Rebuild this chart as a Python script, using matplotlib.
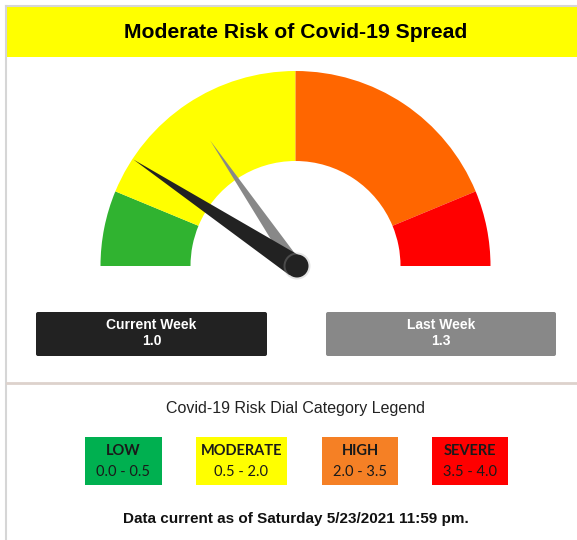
import numpy as np
import matplotlib.pyplot as plt
from matplotlib.patches import Wedge, Polygon, Circle, Rectangle, FancyBboxPatch

# ==========================================
# Data
# ==========================================

title = "Moderate Risk of Covid-19 Spread"

# dial bands (risk value from / to) and colours
band_starts = [0.0, 0.5, 2.0, 3.5]
band_ends = [0.5, 2.0, 3.5, 4.0]
band_colors = ["#30b330", "#ffff00", "#ff6600", "#ff0000"]
dial_max = 4.0

# needle positions as read from the dial, and the shown values
current_needle = 0.74
last_needle = 1.24
current_label = "1.0"
last_label = "1.3"

# legend
legend_names = ["LOW", "MODERATE", "HIGH", "SEVERE"]
legend_ranges = ["0.0 - 0.5", "0.5 - 2.0", "2.0 - 3.5", "3.5 - 4.0"]
legend_colors = ["#00b050", "#ffff00", "#f58025", "#ff0000"]

footer = "Data current as of Saturday 5/23/2021 11:59 pm."

# ==========================================
# Figure (pixel coordinates, y up)
# ==========================================

W, H = 577, 540
fig = plt.figure(figsize=(W / 100, H / 100), dpi=100)
ax = fig.add_axes([0, 0, 1, 1])
ax.set_xlim(0, W)
ax.set_ylim(0, H)
ax.axis("off")


def y(img_y):
    return H - img_y


# outer frame
ax.plot([6, 6], [y(6), 0], color="#d6d6d6", lw=1.5)
ax.plot([6, W], [y(6), y(6)], color="#d6d6d6", lw=1.5)

# title band
ax.add_patch(Rectangle((7, y(57)), W - 7, 50, color="#ffff00", lw=0))
ax.text(296, y(32), title, ha="center", va="center",
        fontsize=15.2, fontweight="bold", family="Liberation Sans")

# ==========================================
# Dial
# ==========================================

cx, cy = 295.5, y(266)
r_out, r_in = 195, 105


def to_angle(v):
    return 180 - v / dial_max * 180


for start, end, col in zip(band_starts, band_ends, band_colors):
    ax.add_patch(Wedge((cx, cy), r_out, to_angle(end), to_angle(start),
                       width=r_out - r_in, color=col, lw=0))


def needle(value, length, base, color, z):
    a = np.radians(to_angle(value))
    ux, uy = np.cos(a), np.sin(a)
    px, py = -uy, ux
    pts = [(cx + ux * length, cy + uy * length),
           (cx + px * base / 2, cy + py * base / 2),
           (cx - px * base / 2, cy - py * base / 2)]
    ax.add_patch(Polygon(pts, closed=True, color=color, lw=0, zorder=z))


needle(last_needle, 152, 14, "#888888", 3)
needle(current_needle, 194, 22, "#222222", 4)
ax.add_patch(Circle((cx + 1.5, cy), 13.5, color="#aaaaaa", alpha=0.3, lw=0, zorder=4))
ax.add_patch(Circle((cx + 1.5, cy), 11.5, color="#222222", lw=0, zorder=5))

# ==========================================
# Current / last week boxes
# ==========================================

boxes = [(36, 267, "#222222", "Current Week", current_label),
         (326, 556, "#888888", "Last Week", last_label)]
for x0, x1, col, name, val in boxes:
    ax.add_patch(FancyBboxPatch((x0, y(356)), x1 - x0, 44,
                                boxstyle="round,pad=0,rounding_size=2",
                                color=col, lw=0))
    ax.text((x0 + x1) / 2, y(325), name, ha="center", va="center",
            color="white", fontsize=10, fontweight="bold", family="Liberation Sans")
    ax.text((x0 + x1) / 2, y(341), val, ha="center", va="center",
            color="white", fontsize=10, fontweight="bold", family="Liberation Sans")

# separator
ax.plot([7, W], [y(383), y(383)], color="#ddd2cc", lw=2)

# ==========================================
# Legend
# ==========================================

ax.text(296, y(408), "Covid-19 Risk Dial Category Legend", ha="center",
        va="center", fontsize=11.5, color="#222222", family="Liberation Sans")

legend_x0 = [85, 196, 322, 432]
legend_x1 = [162, 287, 398, 508]
for i in range(len(legend_names)):
    x0, x1 = legend_x0[i], legend_x1[i]
    ax.add_patch(Rectangle((x0, y(485)), x1 - x0, 48,
                           color=legend_colors[i], lw=0))
    ax.text((x0 + x1) / 2, y(451), legend_names[i], ha="center", va="center",
            fontsize=10.5, fontweight="bold", family="Lato", color="#1a1a1a")
    ax.text((x0 + x1) / 2, y(472), legend_ranges[i], ha="center", va="center",
            fontsize=10.5, family="Lato", color="#1a1a1a")

ax.text(296, y(519), footer, ha="center", va="center", fontsize=11,
        fontweight="bold", family="Liberation Sans", color="#111111")

fig.savefig("out.png", dpi=100)
